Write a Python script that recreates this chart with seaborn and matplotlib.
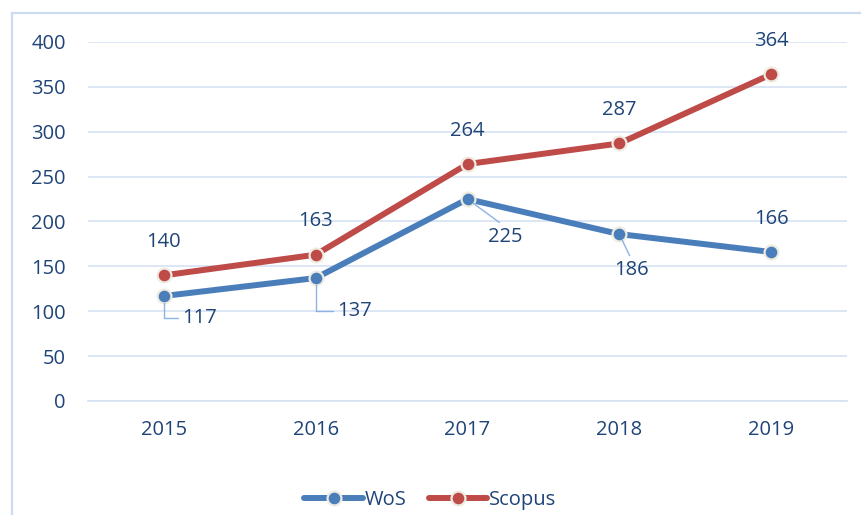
import matplotlib
matplotlib.use("Agg")
import matplotlib.pyplot as plt
import matplotlib.patches as mpatches
import seaborn as sns
import pandas as pd

# data
years = [2015, 2016, 2017, 2018, 2019]
wos = [117, 137, 225, 186, 166]
scopus = [140, 163, 264, 287, 364]

df = pd.DataFrame({"Year": years, "WoS": wos, "Scopus": scopus})

sns.set_theme(style="white")
plt.rcParams["font.family"] = ["Open Sans", "DejaVu Sans"]

text_color = "#1F4478"
grid_color = "#D5E2F2"
colors = {"WoS": "#4A7EBB", "Scopus": "#BE4B48"}
fs = 14.5

fig = plt.figure(figsize=(8.61, 5.15), dpi=100)
ax = fig.add_axes([88 / 861, 1 - 401 / 515, (847 - 88) / 861, (401 - 42) / 515])

# light frame around the chart area (runs off the right/bottom edge)
fig.patches.append(mpatches.Rectangle(
    (12 / 861, -0.05), 1.1, 1 - 13 / 515 + 0.05, transform=fig.transFigure,
    fill=False, edgecolor="#CCDCF0", linewidth=1.6, zorder=0))

for name in ["WoS", "Scopus"]:
    sns.lineplot(data=df, x="Year", y=name, ax=ax, color=colors[name], label=name,
                 linewidth=4.3, marker="o", markersize=10,
                 markeredgecolor="#EEECE1", markeredgewidth=1.6,
                 solid_capstyle="round", zorder=3)

ax.set_xlim(2014.5, 2019.5)
ax.set_ylim(0, 400)
ax.set_yticks(range(0, 401, 50))
ax.set_xticks(years)
ax.set_xticks([y - 0.5 for y in years] + [years[-1] + 0.5], minor=True)
ax.yaxis.grid(True, color=grid_color, linewidth=1.2)
ax.set_axisbelow(True)
for s in ["left", "right", "top"]:
    ax.spines[s].set_visible(False)
ax.spines["bottom"].set_color(grid_color)
ax.spines["bottom"].set_linewidth(1.2)
ax.tick_params(axis="x", which="major", length=0, pad=14, labelsize=fs, labelcolor=text_color)
ax.tick_params(axis="x", which="minor", length=5, width=1.2, color=grid_color, direction="out")
ax.tick_params(axis="y", length=0, pad=16, labelsize=fs, labelcolor=text_color)
ax.set_xlabel("")
ax.set_ylabel("")

# data labels
lead = dict(arrowstyle="-", color="#8DB3E2", linewidth=1.0, shrinkA=1, shrinkB=5)
for x, v in zip(years, scopus):
    ax.annotate(str(v), (x, v), xytext=(0, 24), textcoords="offset points",
                ha="center", va="center", fontsize=fs, color=text_color)

wos_offsets = [(26, -16), (28, -24), (27, -27), (9, -26), (0, 24)]
wos_leader = [
    dict(lead, connectionstyle="angle,angleA=0,angleB=90", relpos=(0, 0.5)),
    dict(lead, connectionstyle="angle,angleA=0,angleB=90", relpos=(0, 0.5)),
    dict(lead, relpos=(0.5, 1)),
    dict(lead, relpos=(0.5, 1)),
    None,
]
for x, v, off, ap in zip(years, wos, wos_offsets, wos_leader):
    ax.annotate(str(v), (x, v), xytext=off, textcoords="offset points",
                ha="center", va="center", fontsize=fs, color=text_color,
                arrowprops=ap)

leg = ax.legend(loc="center", bbox_to_anchor=(0.5, (515 - 500) / 515), bbox_transform=fig.transFigure,
                ncol=2, frameon=False, fontsize=fs, handlelength=2.9, handletextpad=0.1,
                columnspacing=1.1)
for t in leg.get_texts():
    t.set_color(text_color)

fig.savefig("out.png", dpi=100)
